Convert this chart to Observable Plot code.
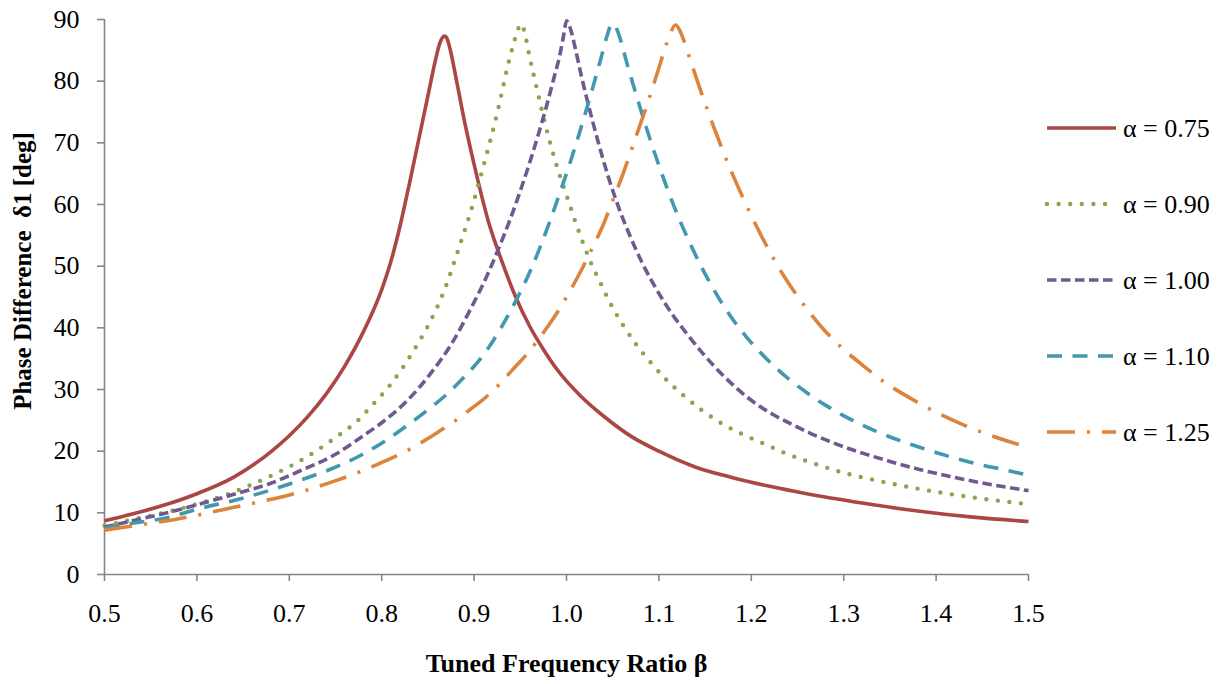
<!DOCTYPE html>
<html>
<head>
<meta charset="utf-8">
<script src="https://cdn.jsdelivr.net/npm/d3@7"></script>
<script src="https://cdn.jsdelivr.net/npm/@observablehq/plot@0.6"></script>
<style>
  html, body { margin: 0; padding: 0; background: #fff; }
  #wrap { position: relative; width: 1225px; height: 684px; overflow: hidden; }
  #legend { position: absolute; left: 0; top: 0; pointer-events: none; }
</style>
</head>
<body>
<div id="wrap"></div>
<script>
// ---- Data ----
const xTicks = [0.5, 0.6, 0.7, 0.8, 0.9, 1.0, 1.1, 1.2, 1.3, 1.4, 1.5];
const yTicks = [0, 10, 20, 30, 40, 50, 60, 70, 80, 90];

const labels = ["α = 0.75", "α = 0.90", "α = 1.00", "α = 1.10", "α = 1.25"];

const beta075  = [0.50,0.53,0.57,0.60,0.64,0.68,0.70,0.72,0.74,0.76,0.78,0.80,0.81,0.82,0.83,0.84,0.85,0.858,0.863,0.868,0.871,0.874,0.882,0.89,0.90,0.915,0.93,0.945,0.96,0.975,0.99,1.015,1.04,1.07,1.10,1.14,1.18,1.22,1.26,1.32,1.38,1.44,1.50];
const delta075 = [8.7,9.8,11.5,13.1,15.8,19.9,22.5,25.6,29.3,33.8,39.3,46.2,50.8,56.6,63.4,70.5,77.6,83.3,86.2,87.3,86.8,85.2,79.3,73.2,66.5,57.5,50.8,45.0,40.3,36.5,33.2,29.0,25.7,22.4,20.0,17.4,15.7,14.3,13.1,11.6,10.3,9.3,8.6];

const beta090  = [0.50,0.53,0.57,0.60,0.64,0.68,0.71,0.75,0.775,0.79,0.81,0.835,0.85,0.867,0.883,0.899,0.912,0.925,0.936,0.943,0.948,0.951,0.954,0.96,0.969,0.978,0.988,1.00,1.012,1.026,1.037,1.048,1.061,1.075,1.091,1.108,1.127,1.147,1.168,1.191,1.214,1.238,1.26,1.30,1.35,1.40,1.45,1.50];
const delta090 = [7.9,8.9,10.2,11.4,13.4,16.0,18.3,22.2,25.1,27.5,30.9,36.4,40.3,45.8,52.7,60.2,67.3,74.8,82.2,86.2,88.6,89.3,88.3,84,78.1,72.4,67.0,61.5,56.2,50.7,47.2,43.8,40.5,37.4,34.4,31.6,29.0,26.6,24.5,22.7,21.2,19.6,18.4,16.5,14.8,13.4,12.3,11.4];

const beta100  = [0.50,0.53,0.57,0.60,0.64,0.68,0.71,0.75,0.78,0.80,0.825,0.853,0.878,0.896,0.912,0.925,0.939,0.95,0.961,0.97,0.979,0.986,0.993,0.997,1.0,1.004,1.010,1.016,1.024,1.034,1.045,1.057,1.069,1.082,1.098,1.114,1.131,1.149,1.17,1.196,1.224,1.242,1.264,1.293,1.322,1.351,1.383,1.415,1.448,1.50];
const delta100 = [7.7,8.7,10.1,11.3,13.0,14.8,16.7,19.5,22.5,24.6,27.8,32.6,38.0,43.0,47.8,52.3,57.6,62.2,67.2,71.6,76.3,80.3,84.4,87.5,89.8,88.6,85.0,80.9,76.0,70.3,64.6,59.3,54.8,50.5,46.1,42.3,38.9,35.6,32.2,28.7,25.9,24.5,22.9,21.1,19.6,18.3,17.0,15.9,14.9,13.6];

const beta110  = [0.50,0.53,0.57,0.60,0.64,0.68,0.71,0.75,0.777,0.802,0.826,0.849,0.871,0.889,0.907,0.921,0.936,0.948,0.961,0.972,0.983,0.994,1.005,1.014,1.022,1.030,1.038,1.044,1.049,1.053,1.057,1.066,1.075,1.084,1.093,1.102,1.111,1.121,1.134,1.147,1.161,1.177,1.196,1.215,1.239,1.259,1.282,1.307,1.334,1.361,1.389,1.415,1.445,1.473,1.50];
const delta110 = [7.5,8.3,9.3,10.6,12.0,13.7,15.2,17.4,19.3,21.5,24.0,26.6,29.3,32.0,35.0,38.0,41.8,45.2,49.3,53.3,57.7,62.4,67.3,71.6,75.6,79.8,84.1,87.4,89.3,88.9,87.4,82.6,78.0,73.6,69.4,65.5,61.8,58.0,53.6,49.6,45.8,42.0,38.3,35.2,31.9,29.6,27.3,25.2,23.3,21.7,20.3,19.1,17.9,17.0,16.1];

const beta125  = [0.50,0.545,0.579,0.606,0.64,0.668,0.698,0.728,0.748,0.772,0.787,0.802,0.829,0.844,0.86,0.883,0.896,0.91,0.929,0.941,0.954,0.970,0.981,0.99,1.0,1.012,1.021,1.030,1.040,1.048,1.057,1.069,1.078,1.089,1.098,1.106,1.112,1.118,1.122,1.127,1.133,1.141,1.150,1.160,1.170,1.180,1.190,1.200,1.212,1.225,1.240,1.256,1.275,1.297,1.32,1.346,1.372,1.40,1.429,1.458,1.50];
const delta125 = [7.2,8.2,9.0,9.8,10.9,11.8,12.8,14.1,15.1,16.4,17.3,18.3,20.2,21.5,23.0,25.3,26.8,28.4,31.1,33.1,35.2,38.2,40.5,42.5,45.0,48.2,50.8,53.6,56.8,59.9,63.3,68.3,72.2,77.0,81.2,85.0,87.6,89.1,88.4,86.6,83.9,80.3,76.4,72.3,68.4,64.8,61.4,58.2,54.6,51.0,47.3,43.9,40.3,36.9,34.0,31.0,28.6,26.3,24.3,22.6,20.6];

const xTitle = "Tuned Frequency Ratio β";
const yTitle = "Phase Difference  δ1 [deg]";

// ---- Styles ----
const styles = [
  {color: "#AA4643", dash: null,          cap: "butt",  width: 3.6},
  {color: "#89A54E", dash: "0,11.6",      cap: "round", width: 4.4},
  {color: "#71588F", dash: "9.5,4.5",     cap: "butt",  width: 3.6},
  {color: "#4198AF", dash: "15,10.5",     cap: "butt",  width: 3.6},
  {color: "#DB843D", dash: "28,12,3,12",  cap: "butt",  width: 3.6}
];
const betas = [beta075, beta090, beta100, beta110, beta125];
const deltas = [delta075, delta090, delta100, delta110, delta125];

const series = labels.map((label, k) => ({
  label, ...styles[k],
  rows: betas[k].map((b, i) => ({beta: b, delta: deltas[k][i]}))
}));

const font = "'Liberation Serif', 'Times New Roman', serif";
const axisGray = "#868686";

const W = 1225, H = 684;
const chart = Plot.plot({
  width: W, height: H,
  marginLeft: 104, marginRight: 197, marginTop: 19, marginBottom: 110,
  style: {fontFamily: font, background: "#fff", color: "#000", overflow: "visible"},
  x: {domain: [0.5, 1.5]},
  y: {domain: [0, 90]},
  marks: [
    Plot.ruleY([0], {stroke: axisGray, strokeWidth: 1.6}),
    Plot.ruleX([0.5], {stroke: axisGray, strokeWidth: 1.6}),
    Plot.axisX({ticks: xTicks, tickSize: 7, tickPadding: 22, tickFormat: d => d.toFixed(1),
                stroke: axisGray, strokeWidth: 1.6, fill: "#000", fontSize: 26, label: null}),
    Plot.axisY({ticks: yTicks, tickSize: 7, tickPadding: 18, tickFormat: d => String(d),
                stroke: axisGray, strokeWidth: 1.6, fill: "#000", fontSize: 26, label: null}),
    ...series.map(s => Plot.line(s.rows, {
      x: "beta", y: "delta", stroke: s.color, strokeWidth: s.width,
      strokeDasharray: s.dash, strokeLinecap: s.cap, strokeLinejoin: "round",
      curve: "monotone-x"
    })),
    Plot.text([xTitle], {frameAnchor: "bottom", textAnchor: "middle", lineAnchor: "middle",
                         dx: 0, dy: 89, fontSize: 26, fontWeight: "bold", fill: "#000"}),
    Plot.text([yTitle], {frameAnchor: "left", textAnchor: "middle", lineAnchor: "middle",
                         dx: -82, dy: -26, rotate: -90, fontSize: 25, fontWeight: "bold", fill: "#000"})
  ]
});
document.getElementById("wrap").appendChild(chart);

// ---- Legend (right side) ----
const leg = d3.select("#wrap").append("svg")
  .attr("id", "legend").attr("width", W).attr("height", H);
const legX0 = 1047, legX1 = 1116, legTextX = 1123, legY0 = 128, legStep = 76;
series.forEach((s, i) => {
  const y = legY0 + i * legStep;
  leg.append("line")
    .attr("x1", legX0).attr("x2", legX1).attr("y1", y).attr("y2", y)
    .attr("stroke", s.color).attr("stroke-width", s.width)
    .attr("stroke-dasharray", s.dash).attr("stroke-linecap", s.cap);
  leg.append("text")
    .attr("x", legTextX).attr("y", y).attr("dy", "0.35em")
    .attr("font-family", font).attr("font-size", 26).attr("fill", "#000")
    .text(s.label);
});
</script>
</body>
</html>
